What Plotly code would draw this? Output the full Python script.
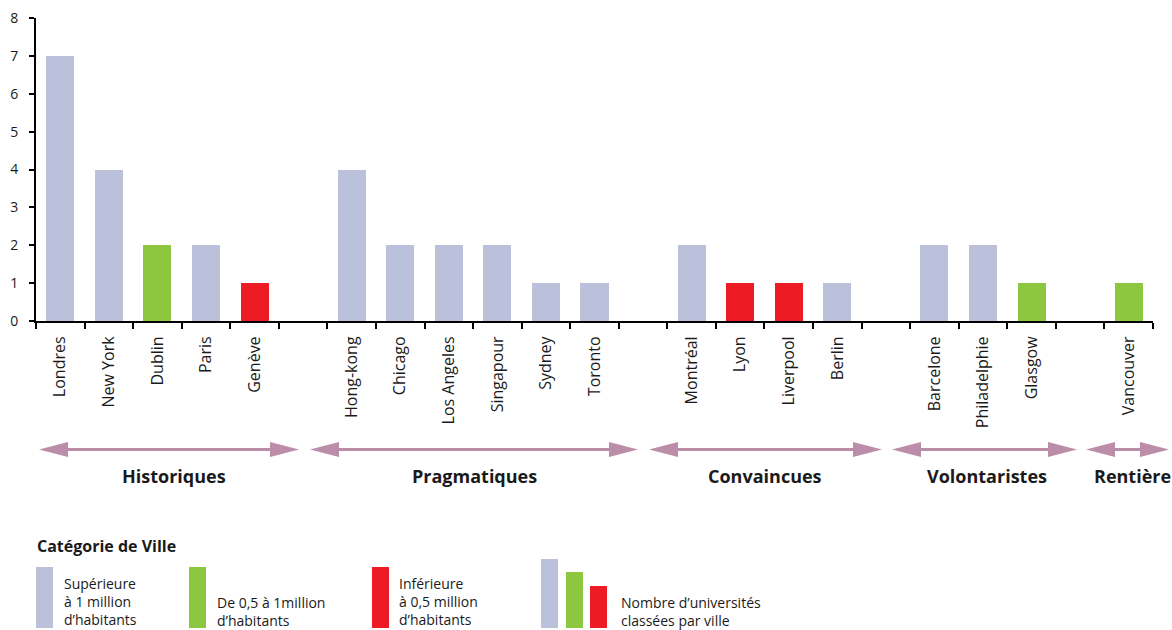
import plotly.graph_objects as go

# ---------------- data ----------------
groups = ["Historiques", "Pragmatiques", "Convaincues", "Volontaristes", "Rentière"]
cities_historiques = ["Londres", "New York", "Dublin", "Paris", "Genève"]
cities_pragmatiques = ["Hong-kong", "Chicago", "Los Angeles", "Singapour", "Sydney", "Toronto"]
cities_convaincues = ["Montréal", "Lyon", "Liverpool", "Berlin"]
cities_volontaristes = ["Barcelone", "Philadelphie", "Glasgow"]
cities_rentiere = ["Vancouver"]

univ_historiques = [7, 4, 2, 2, 1]
univ_pragmatiques = [4, 2, 2, 2, 1, 1]
univ_convaincues = [2, 1, 1, 1]
univ_volontaristes = [2, 2, 1]
univ_rentiere = [1]

size_historiques = ["big", "big", "mid", "big", "small"]
size_pragmatiques = ["big", "big", "big", "big", "big", "big"]
size_convaincues = ["big", "small", "small", "big"]
size_volontaristes = ["big", "big", "mid"]
size_rentiere = ["mid"]

size_labels = {
    "big": "Supérieure<br>à 1 million<br>d’habitants",
    "mid": "De 0,5 à 1million<br>d’habitants",
    "small": "Inférieure<br>à 0,5 million<br>d’habitants",
}
y_ticks = [0, 1, 2, 3, 4, 5, 6, 7, 8]

# ---------------- styles ----------------
COLORS = {"big": "#bcc1db", "mid": "#8dc63f", "small": "#ed1c24"}
ARROW = "#bb8da8"
TXT = "#1a1a1a"
FONT = "Open Sans"

W, H = 1172, 630
ML, MR, MT, MB = 36, 19, 18, 309
PW, PH = W - ML - MR, H - MT - MB

def pxx(px):
    return (px - ML) / PW

def pxy(py):
    return (H - MB - py) / PH

all_cities = [cities_historiques, cities_pragmatiques, cities_convaincues,
              cities_volontaristes, cities_rentiere]
all_vals = [univ_historiques, univ_pragmatiques, univ_convaincues,
            univ_volontaristes, univ_rentiere]
all_sizes = [size_historiques, size_pragmatiques, size_convaincues,
             size_volontaristes, size_rentiere]

xs, names, vals, cols = [], [], [], []
pos = 0
for gi, (cs, vs, ss) in enumerate(zip(all_cities, all_vals, all_sizes)):
    for c, v, s in zip(cs, vs, ss):
        xs.append(pos)
        names.append(c)
        vals.append(v)
        cols.append(COLORS[s])
        pos += 1
    if gi < len(all_cities) - 1:
        pos += 1  # empty slot between groups
n_slots = pos

fig = go.Figure()
fig.add_trace(go.Bar(x=xs, y=vals, marker=dict(color=cols, line=dict(width=0)),
                     width=0.577, hoverinfo="x+y", showlegend=False))

fig.update_layout(
    template="none",
    width=W, height=H,
    margin=dict(l=ML, r=MR, t=MT, b=MB, pad=0, autoexpand=False),
    paper_bgcolor="white", plot_bgcolor="white",
    font=dict(family=FONT, color=TXT),
    showlegend=False,
    bargap=0,
)
fig.update_xaxes(
    automargin=False,
    range=[-0.5, n_slots - 0.5], tickmode="array", tickvals=xs, ticktext=names,
    tickangle=-90, tickfont=dict(family=FONT, size=16, color=TXT),
    ticks="outside", ticklen=4, tickcolor="rgba(0,0,0,0)", ticklabelstandoff=3,
    showline=True, linecolor="black", linewidth=2, showgrid=False, zeroline=False,
    minor=dict(tickmode="array", tickvals=[i - 0.5 for i in range(n_slots + 1)],
               ticks="outside", ticklen=6, tickwidth=1.5, tickcolor="black",
               showgrid=False),
)
fig.update_yaxes(
    automargin=False,
    range=[0, 8], tickmode="array", tickvals=y_ticks,
    tickfont=dict(family=FONT, size=14, color=TXT),
    ticks="outside", ticklen=5, tickwidth=1.5, tickcolor="black", ticklabelstandoff=8,
    showline=True, linecolor="black", linewidth=2, showgrid=False, zeroline=False,
)

# ---------------- group arrows (pixel layout) ----------------
arrow_spans = [(39, 299), (310, 638), (649, 882), (892, 1077), (1086, 1169)]
label_centers = [174, 474, 765, 987, 1132]
AY = 449.5
HEAD_L, HEAD_H = 29, 7.5
shapes = []
for (a, b), g, lc in zip(arrow_spans, groups, label_centers):
    shapes.append(dict(type="line", xref="paper", yref="paper",
                       x0=pxx(a + HEAD_L - 2), x1=pxx(b - HEAD_L + 2),
                       y0=pxy(AY), y1=pxy(AY), line=dict(color=ARROW, width=3)))
    for tip, base in ((a, a + HEAD_L), (b, b - HEAD_L)):
        path = (f"M {pxx(tip)} {pxy(AY)} L {pxx(base)} {pxy(AY - HEAD_H)} "
                f"L {pxx(base)} {pxy(AY + HEAD_H)} Z")
        shapes.append(dict(type="path", xref="paper", yref="paper", path=path,
                           fillcolor=ARROW, line=dict(width=0)))
    fig.add_annotation(xref="paper", yref="paper", x=pxx(lc), y=pxy(476),
                       text=f"<b>{g}</b>", showarrow=False, xanchor="center",
                       yanchor="middle", font=dict(family=FONT, size=18, color=TXT))

# ---------------- legend ----------------
fig.add_annotation(xref="paper", yref="paper", x=pxx(35), y=pxy(546),
                   text="<b>Catégorie de Ville</b>", showarrow=False, xanchor="left",
                   yanchor="middle", font=dict(family=FONT, size=16, color=TXT))

legend_items = [("big", 36, 62, 601.5), ("mid", 189, 215, 611), ("small", 372, 397, 601.5)]
for key, sx, tx, ty in legend_items:
    shapes.append(dict(type="rect", xref="paper", yref="paper",
                       x0=pxx(sx), x1=pxx(sx + 17), y0=pxy(567), y1=pxy(628),
                       fillcolor=COLORS[key], line=dict(width=0)))
    fig.add_annotation(xref="paper", yref="paper", x=pxx(tx), y=pxy(ty),
                       text=size_labels[key], showarrow=False, xanchor="left",
                       yanchor="middle", align="left",
                       font=dict(family=FONT, size=14, color=TXT))

for key, sx, top in (("big", 541, 559), ("mid", 566, 572), ("small", 590, 586)):
    shapes.append(dict(type="rect", xref="paper", yref="paper",
                       x0=pxx(sx), x1=pxx(sx + 17), y0=pxy(top), y1=pxy(628),
                       fillcolor=COLORS[key], line=dict(width=0)))
fig.add_annotation(xref="paper", yref="paper", x=pxx(619), y=pxy(611.5),
                   text="Nombre d’universités<br>classées par ville", showarrow=False,
                   xanchor="left", yanchor="middle", align="left",
                   font=dict(family=FONT, size=14, color=TXT))

fig.update_layout(shapes=shapes)
fig.write_html("out.html")
